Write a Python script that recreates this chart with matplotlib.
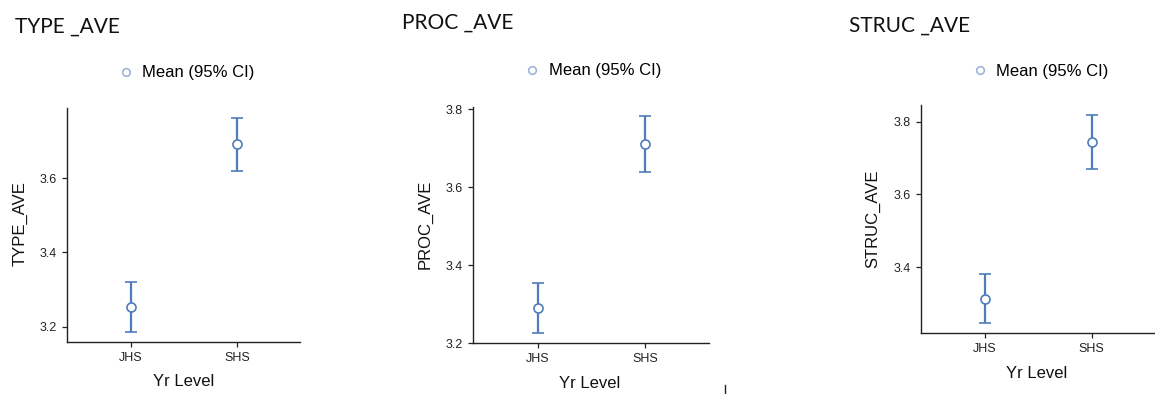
import matplotlib.pyplot as plt
from matplotlib.lines import Line2D

# data
grupos = ["JHS", "SHS"]
titulos = ["TYPE _AVE", "PROC _AVE", "STRUC _AVE"]
etiquetas_y = ["TYPE_AVE", "PROC_AVE", "STRUC_AVE"]

type_media = [3.253, 3.692]
type_inf = [3.185, 3.620]
type_sup = [3.321, 3.763]

proc_media = [3.290, 3.711]
proc_inf = [3.226, 3.638]
proc_sup = [3.354, 3.783]

struc_media = [3.313, 3.743]
struc_inf = [3.246, 3.669]
struc_sup = [3.382, 3.818]

type_ticks = [3.2, 3.4, 3.6]
proc_ticks = [3.2, 3.4, 3.6, 3.8]
struc_ticks = [3.4, 3.6, 3.8]

AZUL = "#4f7cba"
AZUL_CLARO = "#9fb4d8"
W, H = 1155, 394

paneles = [
    dict(media=type_media, inf=type_inf, sup=type_sup, ticks=type_ticks,
         ax=(67.4, 108, 233, 234), ylim=(3.159, 3.789),
         titulo=(15, 33), leyenda=(117.5, 73), ylab=(20, 224), xlab=(184, 382)),
    dict(media=proc_media, inf=proc_inf, sup=proc_sup, ticks=proc_ticks,
         ax=(473.3, 107, 236, 236), ylim=(3.2, 3.806),
         titulo=(402, 29), leyenda=(524, 71), ylab=(425, 224), xlab=(590, 384)),
    dict(media=struc_media, inf=struc_inf, sup=struc_sup, ticks=struc_ticks,
         ax=(921, 105, 234.7, 228), ylim=(3.219, 3.846),
         titulo=(849, 32), leyenda=(971.5, 71.5), ylab=(873, 219), xlab=(1037, 373)),
]

fig = plt.figure(figsize=(W / 100, H / 100), dpi=100)
plt.rcParams["font.family"] = ["Liberation Sans", "DejaVu Sans"]


def fx(px):
    return px / W


def fy(py):
    return 1 - py / H


for i, p in enumerate(paneles):
    l, t, w, h = p["ax"]
    ax = fig.add_axes([fx(l), fy(t + h), w / W, h / H])
    x = list(range(len(grupos)))
    err = [[m - a for m, a in zip(p["media"], p["inf"])],
           [b - m for m, b in zip(p["media"], p["sup"])]]
    ax.errorbar(x, p["media"], yerr=err, fmt="o", color=AZUL, ecolor=AZUL,
                elinewidth=1.6, capsize=4.5, capthick=1.6, markersize=6.5,
                markerfacecolor="white", markeredgecolor=AZUL, markeredgewidth=1.2)
    ax.set_xlim(-0.6, 1.6)
    ax.set_ylim(*p["ylim"])
    ax.set_xticks(x)
    ax.set_xticklabels(grupos)
    ax.set_yticks(p["ticks"])
    ax.set_yticklabels([f"{v:.1f}" for v in p["ticks"]])
    for lado in ["top", "right"]:
        ax.spines[lado].set_visible(False)
    for lado in ["left", "bottom"]:
        ax.spines[lado].set_linewidth(1.0)
        ax.spines[lado].set_color("#222222")
    ax.tick_params(labelsize=9, length=3.5, width=0.9, colors="#222222", pad=4)
    ax.patch.set_alpha(0)

    fig.text(fx(p["titulo"][0]), fy(p["titulo"][1]), titulos[i], fontsize=15,
             family=["Lato", "DejaVu Sans"], va="baseline", ha="left", color="#111111")
    fig.text(fx(p["ylab"][0]), fy(p["ylab"][1]), etiquetas_y[i], fontsize=12,
             rotation=90, ha="center", va="center", color="#111111")
    fig.text(fx(p["xlab"][0]), fy(p["xlab"][1]), "Yr Level", fontsize=12,
             ha="center", va="center", color="#111111")

    marca = Line2D([], [], linestyle="none", marker="o", markersize=5.5,
                   markerfacecolor="white", markeredgecolor=AZUL_CLARO, markeredgewidth=1.2)
    fig.legend([marca], ["Mean (95% CI)"], loc="center left",
               bbox_to_anchor=(fx(p["leyenda"][0]), fy(p["leyenda"][1])),
               frameon=False, fontsize=12, handlelength=1.0, handletextpad=0.5,
               borderpad=0, borderaxespad=0)

# little stray mark under the middle panel
fig.add_artist(Line2D([fx(725), fx(725)], [fy(385), fy(394)], color="#222222", linewidth=1))

fig.savefig("out.png", dpi=100)
